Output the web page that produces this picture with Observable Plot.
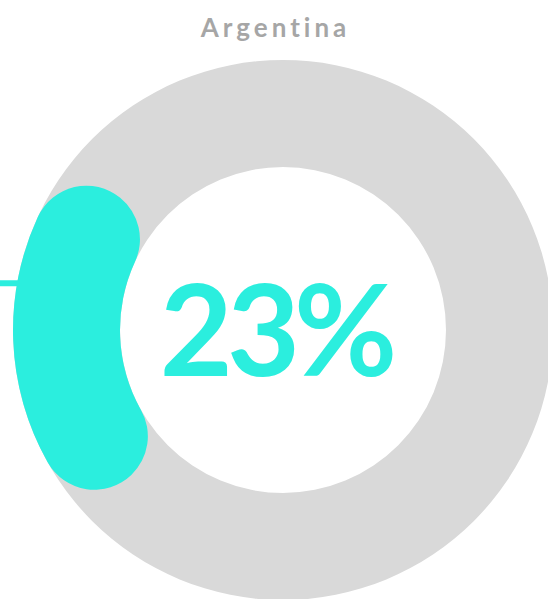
<!DOCTYPE html>
<html>
<head>
<meta charset="utf-8">
<script src="https://cdn.jsdelivr.net/npm/d3@7"></script>
<script src="https://cdn.jsdelivr.net/npm/@observablehq/plot@0.6"></script>
<style>
  html, body { margin: 0; padding: 0; background: #fff; }
  #chart svg { display: block; }
</style>
</head>
<body>
<div id="chart"></div>
<script>
// ---- data ----
const countries = ["Argentina"];
const shares = [23];          // percent
const total = 100;

// ---- style / layout ----
const accent = "#2BEEDE";
const trackColor = "#D9D9D9";
const titleColor = "#A6A6A6";
const W = 548, H = 599;
const cx = 283, cy = 330, R = 270;      // pixel placement of the donut
const innerRatio = 163 / 270;
const startDeg = 226.3;                  // rotation of the arc start
const cornerRatio = 0.5;

const xDomain = [-cx / R, (W - cx) / R];
const yDomain = [-(H - cy) / R, cy / R];

const rows = countries.map((c, i) => ({country: c, value: shares[i], label: shares[i] + "%"}));

function donutMark(index, scales) {
  const x0 = scales.x(0), y0 = scales.y(0);
  const rOuter = scales.x(1) - x0;
  const rInner = rOuter * innerRatio;
  const g = d3.create("svg:g").attr("transform", `translate(${x0},${y0})`);
  g.append("path")
    .attr("d", d3.arc()({innerRadius: rInner, outerRadius: rOuter, startAngle: 0, endAngle: 2 * Math.PI}))
    .attr("fill", trackColor);
  const s = startDeg * Math.PI / 180;
  rows.forEach(d => {
    const e = s + (d.value / total) * 2 * Math.PI;
    g.append("path")
      .attr("d", d3.arc().cornerRadius((rOuter - rInner) * cornerRatio)({innerRadius: rInner, outerRadius: rOuter, startAngle: s, endAngle: e}))
      .attr("fill", accent);
  });
  return g.node();
}

const leaderY = 0.175;
const titleSpacing = 4, labelSpacing = -6;

const chart = Plot.plot({
  width: W,
  height: H,
  margin: 0,
  x: {domain: xDomain, axis: null},
  y: {domain: yDomain, axis: null},
  style: {background: "#fff"},
  marks: [
    donutMark,
    Plot.ruleY([leaderY], {x1: xDomain[0], x2: -Math.sqrt(1 - leaderY * leaderY) + 0.01, stroke: accent, strokeWidth: 6}),
    Plot.text(rows, {
      x: (-10 + titleSpacing / 2) / R, y: (cy - 28) / R, text: "country",
      fill: titleColor, fontSize: 26, fontFamily: "Lato, sans-serif", fontWeight: 700,
      textAnchor: "middle", lineAnchor: "middle", className: "title-text"
    }),
    Plot.text(rows, {
      x: (-5 + labelSpacing / 2) / R, y: -5 / R, text: "label",
      fill: accent, fontSize: 126, fontFamily: "Lato, sans-serif", fontWeight: 700,
      textAnchor: "middle", lineAnchor: "middle", className: "value-text"
    })
  ]
});
d3.select(chart).selectAll(".title-text text").style("letter-spacing", titleSpacing + "px");
d3.select(chart).selectAll(".value-text text").style("letter-spacing", labelSpacing + "px");
document.getElementById("chart").append(chart);
</script>
</body>
</html>
